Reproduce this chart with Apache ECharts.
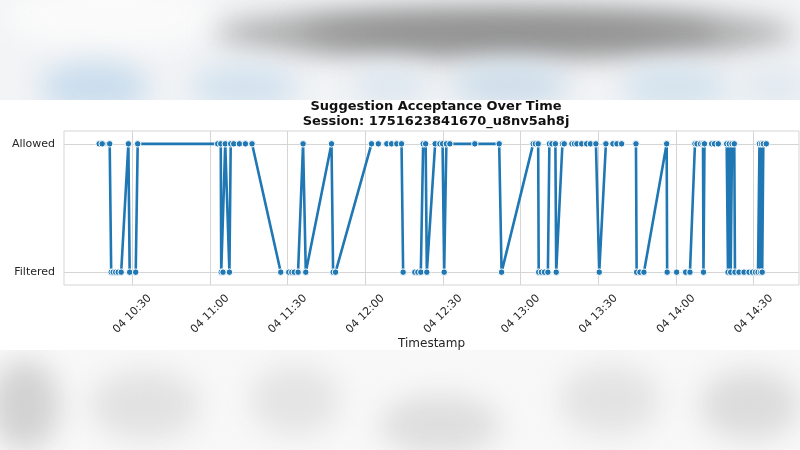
<!DOCTYPE html>
<html>
<head>
<meta charset="utf-8">
<script src="https://cdn.jsdelivr.net/npm/echarts@6/dist/echarts.min.js"></script>
<style>
html,body{margin:0;padding:0;background:#fff;}
#wrap{position:relative;width:800px;height:450px;overflow:hidden;background:#fff;}
.band{position:absolute;left:0;width:800px;overflow:hidden;}
#topband{top:0;height:100px;background:#f2f4f6;}
#botband{top:350px;height:100px;background:#f8f8f8;}
.blob{position:absolute;border-radius:50%;filter:blur(14px);}
#chart{position:absolute;left:0;top:0;width:800px;height:450px;}
</style>
</head>
<body>
<div id="wrap">
  <div class="band" id="topband">
    <div class="blob" style="left:0px;top:-20px;width:220px;height:70px;background:#fafafa;"></div>
    <div class="blob" style="left:215px;top:8px;width:580px;height:50px;background:#a8a8a8;"></div>
    <div class="blob" style="left:300px;top:18px;width:420px;height:28px;background:#8c8c8c;"></div>
    <div class="blob" style="left:40px;top:62px;width:110px;height:50px;background:#c9dced;"></div>
    <div class="blob" style="left:190px;top:64px;width:110px;height:46px;background:#d3e2ee;"></div>
    <div class="blob" style="left:350px;top:66px;width:80px;height:40px;background:#dde7ef;"></div>
    <div class="blob" style="left:450px;top:62px;width:120px;height:46px;background:#cfdeea;"></div>
    <div class="blob" style="left:620px;top:64px;width:110px;height:46px;background:#d4e2ed;"></div>
    <div class="blob" style="left:740px;top:66px;width:70px;height:40px;background:#e0e8ef;"></div>
  </div>
  <div class="band" id="botband">
    <div class="blob" style="left:-10px;top:10px;width:70px;height:90px;background:#d2d2d2;"></div>
    <div class="blob" style="left:90px;top:20px;width:110px;height:70px;background:#e2e2e2;"></div>
    <div class="blob" style="left:250px;top:15px;width:90px;height:70px;background:#e4e4e4;"></div>
    <div class="blob" style="left:380px;top:45px;width:120px;height:60px;background:#dedede;"></div>
    <div class="blob" style="left:560px;top:15px;width:100px;height:70px;background:#e3e3e3;"></div>
    <div class="blob" style="left:700px;top:20px;width:100px;height:70px;background:#dcdcdc;"></div>
  </div>
  <div id="chart"></div>
</div>
<script>
// ---- data ----
const sessionDate = [2025, 7, 4];
const categories = ['Filtered', 'Allowed'];
const timestamps = [
  '10:17:10','10:18:20','10:21:14','10:21:49','10:22:35','10:23:33','10:24:31','10:25:40','10:28:27','10:28:57',
  '10:31:17','10:32:03','11:02:58','11:04:08','11:04:19','11:05:01','11:05:52','11:07:29','11:07:59','11:09:09',
  '11:11:21','11:13:40','11:16:13','11:27:19','11:30:25','11:31:34','11:32:32','11:34:00','11:35:56','11:36:59',
  '11:46:55','11:47:32','11:48:29','12:02:22','12:05:00','12:08:17','12:10:06','12:12:08','12:13:58','12:14:35',
  '12:19:06','12:20:16','12:21:25','12:22:19','12:23:17','12:23:44','12:26:57','12:28:46','12:29:49','12:30:26',
  '12:31:17','12:32:38','12:42:17','12:51:41','12:52:37','13:04:49','13:05:40','13:06:45','13:06:57','13:07:59',
  '13:09:09','13:10:30','13:11:05','13:12:03','13:13:24','13:13:43','13:16:07','13:16:48','13:19:47','13:20:45',
  '13:21:43','13:23:32','13:25:28','13:26:56','13:29:03','13:30:20','13:32:55','13:35:37','13:37:10','13:38:59',
  '13:44:31','13:44:47','13:46:04','13:47:36','13:56:23','13:56:34','14:00:14','14:03:43','14:05:23','14:07:19',
  '14:08:05','14:09:26','14:10:25','14:10:36','14:10:59','14:13:46','14:14:51','14:16:19','14:19:34','14:20:04',
  '14:20:34','14:21:07','14:21:37','14:22:30','14:22:46','14:24:19','14:26:15','14:28:11','14:29:32','14:30:42',
  '14:31:40','14:32:14','14:32:38','14:33:01','14:33:17','14:33:43','14:34:52'
];
const A = 'Allowed', F = 'Filtered';
const decisions = [
  A,A,A,F,F,F,F,F,A,F,
  F,A,A,A,F,F,A,F,A,A,
  A,A,A,F,F,F,F,F,A,F,
  A,F,F,A,A,A,A,A,A,F,
  F,F,F,A,A,F,A,A,A,F,
  A,A,A,A,F,A,A,A,F,F,
  F,F,A,A,A,F,A,A,A,A,
  A,A,A,A,A,F,A,A,A,A,
  A,F,F,F,A,F,F,F,F,A,
  A,A,A,F,A,A,A,A,A,F,
  A,F,A,A,F,F,F,F,F,F,
  F,A,F,A,F,A,A
];
// indices after which the drawn line is broken in the reference
const gapAfter = [23,33,34,39,67,76,77,79,85,86,94,97,104,105,106,107,108];
const xRange = ['10:03:35', '14:47:30'];
const xTicks = ['10:30','11:00','11:30','12:00','12:30','13:00','13:30','14:00','14:30'];
const titleLines = ['Suggestion Acceptance Over Time', 'Session: 1751623841670_u8nv5ah8j'];

// ---- helpers ----
function toMs(hms) {
  const p = hms.split(':').map(Number);
  return new Date(sessionDate[0], sessionDate[1] - 1, sessionDate[2], p[0], p[1], p[2] || 0).getTime();
}
function pad(n) { return (n < 10 ? '0' : '') + n; }

const segments = [];
let cur = [];
timestamps.forEach((t, i) => {
  cur.push([toMs(t), categories.indexOf(decisions[i])]);
  if (gapAfter.indexOf(i) >= 0) { segments.push(cur); cur = []; }
});
if (cur.length) segments.push(cur);

const xTickValues = xTicks.map(toMs);

const BLUE = '#1f77b4';
const TXT = '#262626';
const GRID = '#d5d5d5';
const FONT = 'DejaVu Sans';

const series = segments.map(seg => ({
  type: 'line',
  data: seg,
  showSymbol: true,
  showAllSymbol: true,
  symbol: 'circle',
  symbolSize: 6.5,
  lineStyle: { color: BLUE, width: 2.6 },
  itemStyle: { color: BLUE, borderColor: '#ffffff', borderWidth: 1 },
  emphasis: { disabled: true },
  silent: true,
  animation: false
}));

const chart = echarts.init(document.getElementById('chart'), null, { renderer: 'canvas' });
chart.setOption({
  backgroundColor: 'transparent',
  animation: false,
  title: {
    text: titleLines.join('\n'),
    left: 431,
    top: 94,
    textAlign: 'center',
    textStyle: { fontFamily: FONT, fontSize: 13, fontWeight: 'bold', color: '#111', lineHeight: 15 }
  },
  grid: {
    left: 64, right: 1, top: 131, bottom: 165,
    outerBoundsMode: 'none', containLabel: false,
    show: true, borderColor: GRID, borderWidth: 1, backgroundColor: '#fff'
  },
  xAxis: {
    type: 'value',
    min: toMs(xRange[0]),
    max: toMs(xRange[1]),
    axisLine: { show: false },
    axisTick: { show: false, customValues: xTickValues },
    splitLine: { show: true, lineStyle: { color: GRID, width: 1 } },
    axisLabel: {
      customValues: xTickValues,
      rotate: 45,
      align: 'center',
      verticalAlign: 'middle',
      margin: 29,
      color: TXT,
      fontFamily: FONT,
      fontSize: 11,
      formatter: function (v) {
        const d = new Date(v);
        return pad(d.getDate()) + ' ' + pad(d.getHours()) + ':' + pad(d.getMinutes());
      }
    },
    name: 'Timestamp',
    nameLocation: 'middle',
    nameGap: 52,
    nameTextStyle: { color: TXT, fontFamily: FONT, fontSize: 12 }
  },
  yAxis: {
    type: 'value',
    min: -0.1,
    max: 1.1,
    axisLine: { show: false },
    axisTick: { show: false, customValues: [0, 1] },
    splitLine: { show: true, lineStyle: { color: GRID, width: 1 } },
    axisLabel: {
      customValues: [0, 1],
      margin: 9,
      color: TXT,
      fontFamily: FONT,
      fontSize: 11,
      formatter: function (v) { return categories[Math.round(v)]; }
    },
    name: 'Decision',
    nameLocation: 'middle',
    nameGap: 52,
    nameTextStyle: { color: TXT, fontFamily: FONT, fontSize: 12 }
  },
  series: series
});
</script>
</body>
</html>
